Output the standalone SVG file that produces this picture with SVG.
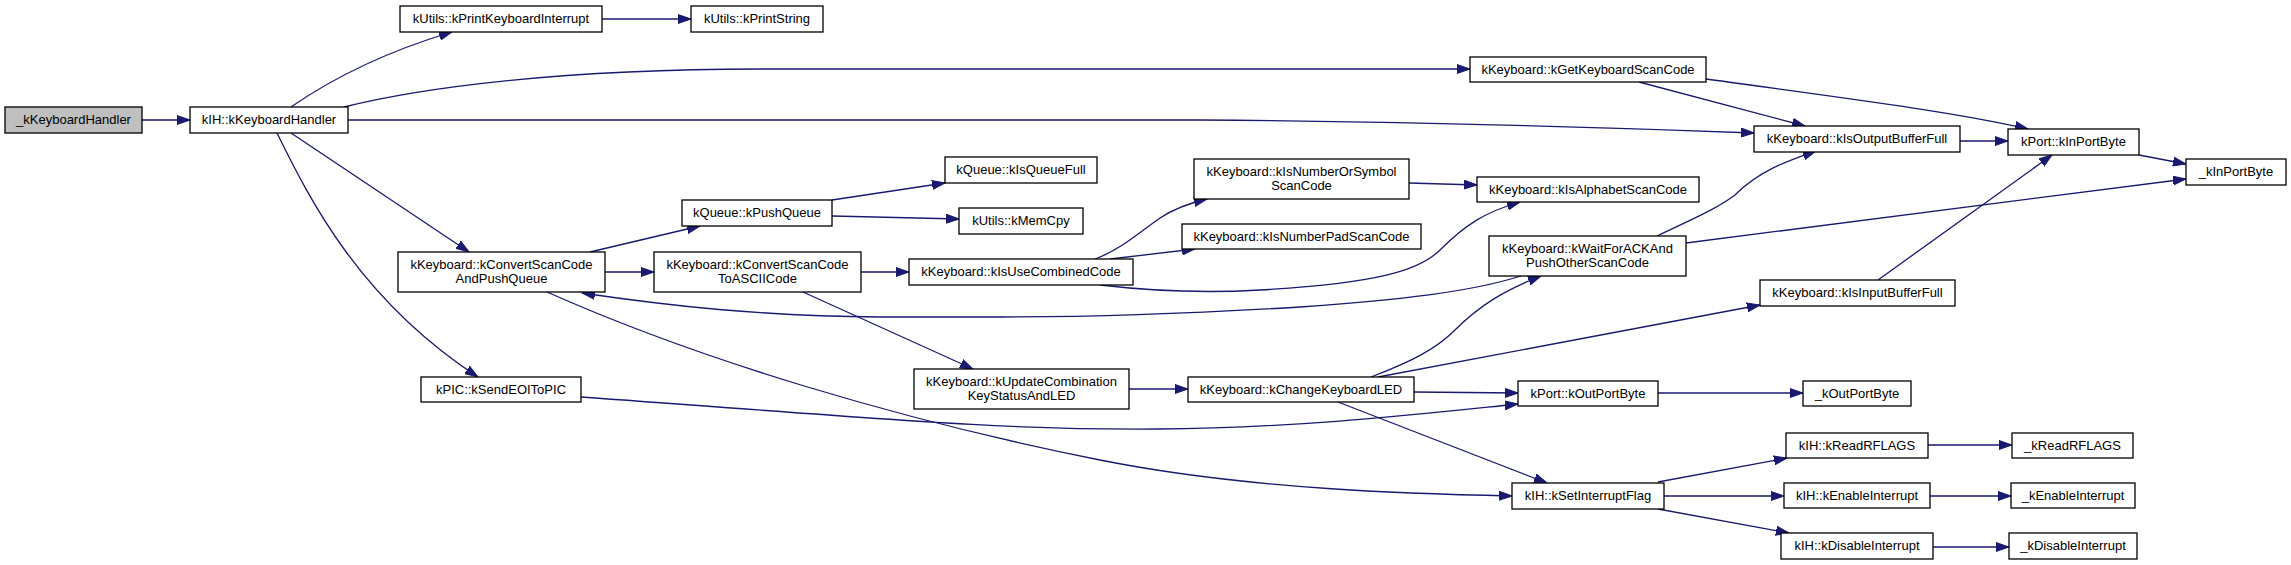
<svg xmlns="http://www.w3.org/2000/svg" width="2291" height="565" viewBox="0 0 2291 565">
<style>
.n rect{fill:#ffffff;stroke:#000000;stroke-width:1.3}
.n.root rect{fill:#bfbfbf}
.n text{font-family:"Liberation Sans",Arial,Helvetica,sans-serif;font-size:13px;fill:#000000;text-anchor:middle}
.e path{fill:none;stroke:#191970;stroke-width:1.3;marker-end:url(#ah)}
</style>
<defs>
<marker id="ah" markerWidth="14" markerHeight="10" refX="13" refY="5" orient="auto" markerUnits="userSpaceOnUse"><path d="M0,0.5 L13,5 L0,9.5 z" fill="#191970" stroke="#191970" stroke-width="1"/></marker>
</defs>
<rect width="2291" height="565" fill="#ffffff"/>
<g id="edges" class="e">
<path d="M142,120 L190,120"/>
<path d="M291,107 C 330,80 385,52 452,32"/>
<path d="M602,19 L691,19"/>
<path d="M344,107 C 420,88 560,69 760,69 L1470,69"/>
<path d="M348,120 L1200,120 C 1450,122 1650,129 1754,133"/>
<path d="M291,133 L469,252"/>
<path d="M277,133 C 310,200 360,300 478,377"/>
<path d="M590,252 L700,226"/>
<path d="M605,272 L654,272"/>
<path d="M547,292 C 700,360 900,420 1100,460 C 1250,490 1420,494 1512,496"/>
<path d="M832,200 L945,183"/>
<path d="M832,216 L959,219"/>
<path d="M861,272 L909,272"/>
<path d="M803,292 L973,369"/>
<path d="M1095,259 C 1120,250 1140,232 1160,218 C 1175,208 1190,203 1207,199"/>
<path d="M1110,259 L1195,249"/>
<path d="M1100,285 C 1160,292 1210,293 1260,290 C 1380,283 1420,270 1440,250 C 1465,225 1485,212 1520,202"/>
<path d="M1521,276 C 1470,292 1400,300 1300,307 C 1200,313 1100,317 1000,317 L 880,317 C 760,316 670,306 582,293"/>
<path d="M1409,183 L1477,185"/>
<path d="M1639,82 L1805,126"/>
<path d="M1706,79 C 1860,100 1960,113 2028,129"/>
<path d="M1960,141 L2008,141"/>
<path d="M2139,155 L2186,164"/>
<path d="M1657,236 C 1690,220 1715,210 1735,195 C 1760,170 1790,160 1816,151"/>
<path d="M1686,243 L2186,179"/>
<path d="M1878,280 L2052,155"/>
<path d="M1129,389 L1188,389"/>
<path d="M1371,377 C 1410,362 1435,350 1455,330 C 1480,305 1505,290 1541,276"/>
<path d="M1378,377 L1760,305"/>
<path d="M1414,392 L1518,393"/>
<path d="M1338,402 L1547,483"/>
<path d="M581,397 C 900,420 1000,430 1157,429 C 1300,428 1420,414 1518,404"/>
<path d="M1658,393 L1803,393"/>
<path d="M1658,482 L1787,458"/>
<path d="M1664,496 L1784,496"/>
<path d="M1658,509 L1789,533"/>
<path d="M1928,445 L2012,445"/>
<path d="M1930,496 L2011,496"/>
<path d="M1933,547 L2009,547"/>
</g>
<g id="node_kKeyboardHandler_asm" class="n root"><rect x="5" y="107" width="137" height="26"/><text x="73.5" y="124">_kKeyboardHandler</text></g>
<g id="node_kIH_kKeyboardHandler" class="n"><rect x="190" y="107" width="158" height="26"/><text x="269" y="124">kIH::kKeyboardHandler</text></g>
<g id="node_kPrintKeyboardInterrupt" class="n"><rect x="400" y="6" width="202" height="26"/><text x="501" y="23">kUtils::kPrintKeyboardInterrupt</text></g>
<g id="node_kPrintString" class="n"><rect x="691" y="6" width="132" height="26"/><text x="757" y="23">kUtils::kPrintString</text></g>
<g id="node_kGetKeyboardScanCode" class="n"><rect x="1470" y="57" width="236" height="25"/><text x="1588" y="73.5">kKeyboard::kGetKeyboardScanCode</text></g>
<g id="node_kIsOutputBufferFull" class="n"><rect x="1754" y="126" width="206" height="26"/><text x="1857" y="143">kKeyboard::kIsOutputBufferFull</text></g>
<g id="node_kInPortByte" class="n"><rect x="2008" y="129" width="131" height="26"/><text x="2073.5" y="146">kPort::kInPortByte</text></g>
<g id="node_kInPortByte_asm" class="n"><rect x="2186" y="159" width="100" height="26"/><text x="2236" y="176">_kInPortByte</text></g>
<g id="node_kConvertScanCodeAndPushQueue" class="n"><rect x="398" y="252" width="207" height="40"/><text x="501.5" y="269">kKeyboard::kConvertScanCode</text><text x="501.5" y="283">AndPushQueue</text></g>
<g id="node_kPushQueue" class="n"><rect x="682" y="200" width="150" height="26"/><text x="757" y="217">kQueue::kPushQueue</text></g>
<g id="node_kIsQueueFull" class="n"><rect x="945" y="157" width="152" height="26"/><text x="1021" y="174">kQueue::kIsQueueFull</text></g>
<g id="node_kMemCpy" class="n"><rect x="959" y="208" width="124" height="26"/><text x="1021" y="225">kUtils::kMemCpy</text></g>
<g id="node_kConvertScanCodeToASCIICode" class="n"><rect x="654" y="252" width="207" height="40"/><text x="757.5" y="269">kKeyboard::kConvertScanCode</text><text x="757.5" y="283">ToASCIICode</text></g>
<g id="node_kIsUseCombinedCode" class="n"><rect x="909" y="259" width="224" height="26"/><text x="1021" y="276">kKeyboard::kIsUseCombinedCode</text></g>
<g id="node_kIsNumberOrSymbolScanCode" class="n"><rect x="1194" y="159" width="215" height="40"/><text x="1301.5" y="176">kKeyboard::kIsNumberOrSymbol</text><text x="1301.5" y="190">ScanCode</text></g>
<g id="node_kIsNumberPadScanCode" class="n"><rect x="1182" y="224" width="239" height="25"/><text x="1301.5" y="240.5">kKeyboard::kIsNumberPadScanCode</text></g>
<g id="node_kIsAlphabetScanCode" class="n"><rect x="1477" y="177" width="222" height="25"/><text x="1588" y="193.5">kKeyboard::kIsAlphabetScanCode</text></g>
<g id="node_kWaitForACKAndPushOtherScanCode" class="n"><rect x="1489" y="236" width="197" height="40"/><text x="1587.5" y="253">kKeyboard::kWaitForACKAnd</text><text x="1587.5" y="267">PushOtherScanCode</text></g>
<g id="node_kIsInputBufferFull" class="n"><rect x="1760" y="280" width="195" height="26"/><text x="1857.5" y="297">kKeyboard::kIsInputBufferFull</text></g>
<g id="node_kUpdateCombinationKeyStatusAndLED" class="n"><rect x="914" y="369" width="215" height="40"/><text x="1021.5" y="386">kKeyboard::kUpdateCombination</text><text x="1021.5" y="400">KeyStatusAndLED</text></g>
<g id="node_kChangeKeyboardLED" class="n"><rect x="1188" y="377" width="226" height="25"/><text x="1301" y="393.5">kKeyboard::kChangeKeyboardLED</text></g>
<g id="node_kOutPortByte" class="n"><rect x="1518" y="381" width="140" height="25"/><text x="1588" y="397.5">kPort::kOutPortByte</text></g>
<g id="node_kOutPortByte_asm" class="n"><rect x="1803" y="381" width="108" height="25"/><text x="1857" y="397.5">_kOutPortByte</text></g>
<g id="node_kSendEOIToPIC" class="n"><rect x="421" y="377" width="160" height="25"/><text x="501" y="393.5">kPIC::kSendEOIToPIC</text></g>
<g id="node_kSetInterruptFlag" class="n"><rect x="1512" y="483" width="152" height="26"/><text x="1588" y="500">kIH::kSetInterruptFlag</text></g>
<g id="node_kReadRFLAGS" class="n"><rect x="1786" y="433" width="142" height="25"/><text x="1857" y="449.5">kIH::kReadRFLAGS</text></g>
<g id="node_kReadRFLAGS_asm" class="n"><rect x="2012" y="433" width="121" height="25"/><text x="2072.5" y="449.5">_kReadRFLAGS</text></g>
<g id="node_kEnableInterrupt" class="n"><rect x="1784" y="483" width="146" height="25"/><text x="1857" y="499.5">kIH::kEnableInterrupt</text></g>
<g id="node_kEnableInterrupt_asm" class="n"><rect x="2011" y="483" width="124" height="25"/><text x="2073" y="499.5">_kEnableInterrupt</text></g>
<g id="node_kDisableInterrupt" class="n"><rect x="1781" y="533" width="152" height="26"/><text x="1857" y="550">kIH::kDisableInterrupt</text></g>
<g id="node_kDisableInterrupt_asm" class="n"><rect x="2009" y="533" width="128" height="26"/><text x="2073" y="550">_kDisableInterrupt</text></g>
</svg>
